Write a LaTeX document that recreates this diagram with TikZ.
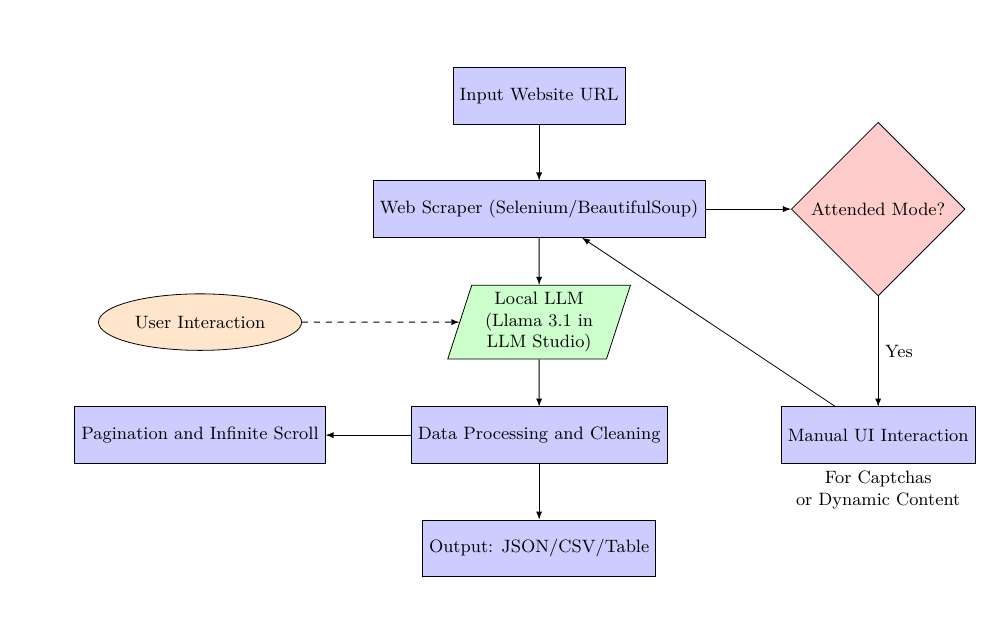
\documentclass[tikz,border=0pt]{standalone}
\usetikzlibrary{arrows,shapes}
\tikzstyle{process}=[rectangle,draw,minimum width=3cm,minimum height=1cm,text centered,fill=blue!20]
\tikzstyle{llmbox}=[trapezium,trapezium left angle=72,trapezium right angle=108,draw,text width=2.15cm,text centered,minimum height=1cm,fill=green!20]
\tikzstyle{decision}=[diamond,draw,aspect=1,minimum width=3cm,text centered,fill=red!20]
\tikzstyle{userbox}=[ellipse,draw,minimum width=3cm,minimum height=1cm,text centered,fill=orange!20]
\tikzstyle{orientedarc}=[->,>=latex]
\tikzstyle{dashedarc}=[->,>=latex,dashed]
\tikzstyle{arclabel}=[midway]

\begin{document}
\begin{tikzpicture}[font=\small]
\useasboundingbox (-9.54cm,1.70cm) rectangle (7.89cm,-9.22cm);

\node[process] (URL) at (0cm,0cm) {Input Website URL};
\node[process] (SCRAPER) at (0cm,-2cm) {Web Scraper (Selenium/BeautifulSoup)};
\node[decision] (MODE) at (6cm,-2cm) {Attended Mode?};
\node[llmbox] (LLM) at (0cm,-4cm) {Local LLM (Llama 3.1 in LLM Studio)};
\node[userbox] (USER) at (-6cm,-4cm) {User Interaction};
\node[process] (CLEAN) at (0cm,-6cm) {Data Processing and Cleaning};
\node[process] (PAGES) at (-6cm,-6cm) {Pagination and Infinite Scroll};
\node[process] (MANUAL) at (6cm,-6cm) {Manual UI Interaction};
\node[process] (OUT) at (0cm,-8cm) {Output: JSON/CSV/Table};

\node[below,text centered,text width=4cm] (NOTE) at (MANUAL.south) {For Captchas \\ or Dynamic Content};

\draw[orientedarc] (URL) -- (SCRAPER);
\draw[orientedarc] (SCRAPER) -- (MODE);
\draw[orientedarc] (MODE) -- (MANUAL) node[arclabel, right]{Yes};
\draw[orientedarc] (MANUAL) -- (SCRAPER);
\draw[orientedarc] (SCRAPER) -- (LLM);
\draw[dashedarc] (USER) -- (LLM);
\draw[orientedarc] (LLM) -- (CLEAN);
\draw[orientedarc] (CLEAN) -- (PAGES);
\draw[orientedarc] (CLEAN) -- (OUT);

\end{tikzpicture}
\end{document}
